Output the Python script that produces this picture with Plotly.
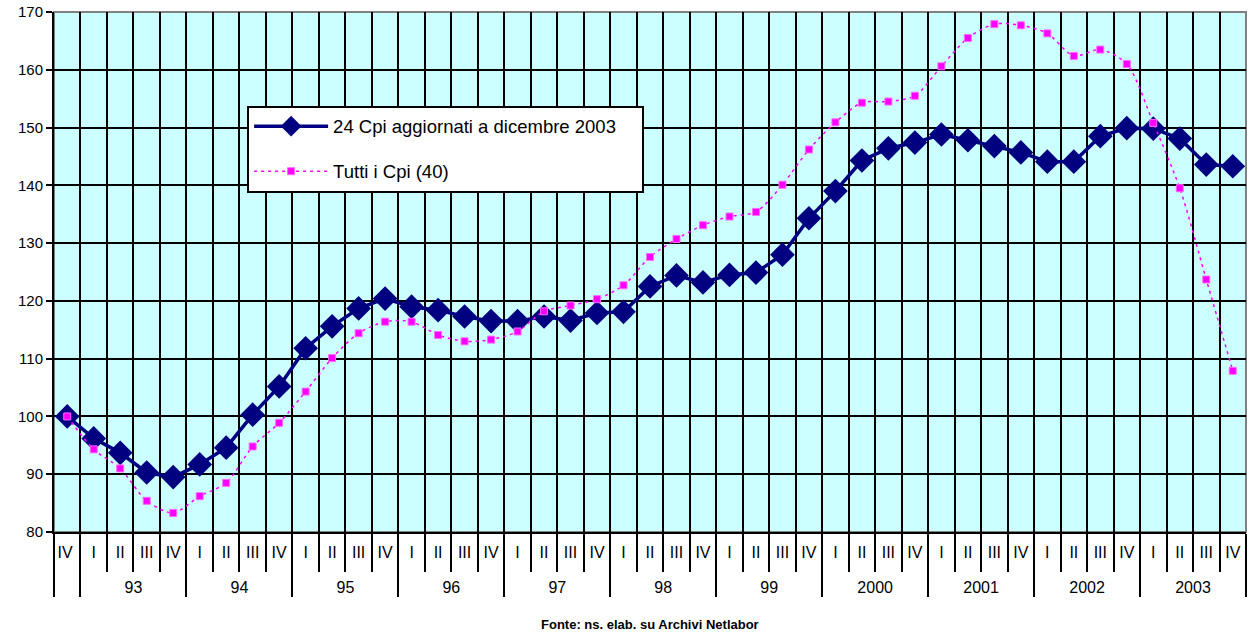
import plotly.graph_objects as go

# Quarter/year categories: IV quarter of 1992, then 1993-2003.
# The opening quarter gets its own label key so the quarter order stays I..IV.
year_names = ["93", "94", "95", "96", "97", "98", "99", "2000", "2001", "2002", "2003"]
years = [" "] + ["<br>" + y for y in year_names for _ in range(4)]
quarters = ["IV "] + ["I", "II", "III", "IV"] * 11

# Index values (IV 1992 = 100)
cpi_24 = [100.0,
          96.2, 93.7, 90.3, 89.5,
          91.7, 94.6, 100.3, 105.2,
          111.8, 115.6, 118.7, 120.4,
          119.0, 118.4, 117.3, 116.5,
          116.5, 117.3, 116.6, 117.9,
          118.1, 122.5, 124.4, 123.2,
          124.5, 124.9, 128.0, 134.3,
          139.0, 144.3, 146.4, 147.4,
          148.8, 147.8, 146.8, 145.7,
          144.1, 144.1, 148.5, 149.9,
          149.8, 148.1, 143.6, 143.3]

cpi_all = [100.0,
           94.3, 91.0, 85.4, 83.3,
           86.2, 88.5, 94.8, 98.9,
           104.3, 110.1, 114.4, 116.4,
           116.4, 114.1, 113.0, 113.3,
           114.7, 118.2, 119.2, 120.3,
           122.7, 127.6, 130.7, 133.1,
           134.6, 135.4, 140.1, 146.2,
           150.9, 154.3, 154.5, 155.5,
           160.6, 165.5, 167.9, 167.7,
           166.3, 162.4, 163.5, 161.0,
           150.8, 139.5, 123.7, 107.9]

font_family = "Liberation Sans, Arial, sans-serif"
pad = "\u00a0" * 4  # right-hand breathing room inside the legend box

fig = go.Figure()

fig.add_trace(go.Scatter(
    x=[years, quarters], y=cpi_24,
    name="24 Cpi aggiornati a dicembre 2003" + pad,
    legendgroup="a",
    mode="lines+markers",
    line=dict(color="#000080", width=3.5),
    marker=dict(symbol="diamond", size=19, color="#000080"),
))

fig.add_trace(go.Scatter(
    x=[years, quarters], y=cpi_all,
    name="Tutti i Cpi (40)",
    legendgroup="b",
    mode="lines+markers",
    line=dict(color="#FF00FF", width=1.5, dash="3px,4px", shape="spline", smoothing=0.8),
    marker=dict(symbol="square", size=7, color="#FF00FF",
                line=dict(color="#FF66FF", width=1)),
))

fig.update_layout(
    width=1249, height=634,
    margin=dict(l=54, r=3, t=12, b=102),
    paper_bgcolor="white",
    plot_bgcolor="#CCFFFF",
    font=dict(family=font_family, size=15, color="black"),
    showlegend=True,
    legend=dict(
        x=0.162, y=0.820, xanchor="left", yanchor="top",
        bgcolor="white", bordercolor="black", borderwidth=2,
        font=dict(size=18.5, family=font_family),
        traceorder="grouped", tracegroupgap=18,
        itemwidth=74,
    ),
    xaxis=dict(
        type="multicategory",
        range=[-0.5, len(quarters) - 0.5],
        tickson="boundaries", tickangle=0,
        ticks="outside", ticklen=38, tickcolor="black", tickwidth=1.5,
        ticklabelstandoff=5,
        showgrid=True, gridcolor="black", gridwidth=1.5,
        showline=True, linecolor="black", linewidth=2,
        showdividers=True, dividercolor="black", dividerwidth=1.5,
        tickfont=dict(size=16, family=font_family),
    ),
    yaxis=dict(
        range=[80, 170], dtick=10, tick0=80,
        ticks="outside", ticklen=6, tickcolor="black", tickwidth=1.5,
        showgrid=True, gridcolor="black", gridwidth=1.5,
        showline=True, linecolor="black", linewidth=2,
        zeroline=False,
        tickfont=dict(size=15, family=font_family),
    ),
    shapes=[dict(type="rect", xref="paper", yref="paper", x0=0, x1=1, y0=0, y1=1,
                 line=dict(color="#808080", width=2), layer="below")],
    annotations=[dict(
        text="<b>Fonte: ns. elab. su Archivi Netlabor</b>",
        xref="paper", yref="paper", x=0.5, y=-0.178,
        xanchor="center", yanchor="middle", showarrow=False,
        font=dict(size=13, family=font_family),
    )],
)

fig.write_html("out.html")
